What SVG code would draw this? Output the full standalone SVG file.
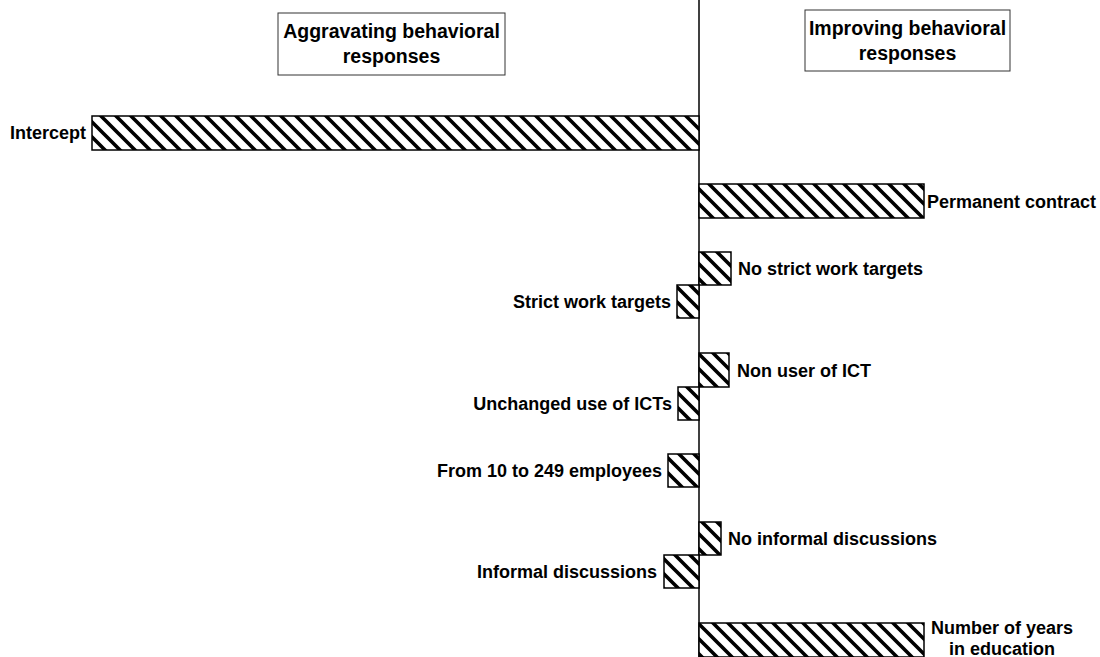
<svg xmlns="http://www.w3.org/2000/svg" width="1100" height="657" viewBox="0 0 1100 657">
<style>
.bar{fill:url(#hatch);stroke:#000;stroke-width:1.5}
.lbl{font-family:"Liberation Sans",Arial,sans-serif;font-weight:bold;font-size:18px;fill:#000}
.hdr{font-family:"Liberation Sans",Arial,sans-serif;font-weight:bold;font-size:19.5px;fill:#000;text-anchor:middle}
.box{fill:#fff;stroke:#333;stroke-width:1}
</style>
<defs>
<pattern id="hatch" patternUnits="userSpaceOnUse" width="15" height="15">
<rect width="15" height="15" fill="#fff"/>
<path d="M0,0 L15,15 M10,-5 L20,5 M-5,10 L5,20" stroke="#000" stroke-width="3.6"/>
</pattern>
</defs>
<rect width="1100" height="657" fill="#fff"/>
<g id="header-left">
<rect class="box" x="278" y="13" width="227" height="62"/>
<text class="hdr" x="391.5" y="38">Aggravating behavioral</text>
<text class="hdr" x="391.5" y="63">responses</text>
</g>
<g id="header-right">
<rect class="box" x="805" y="10" width="205" height="61"/>
<text class="hdr" x="907.5" y="35">Improving behavioral</text>
<text class="hdr" x="907.5" y="60">responses</text>
</g>
<g id="connectors">
<line x1="699" y1="0" x2="699" y2="657" stroke="#000" stroke-width="1.5"/>
</g>
<g id="intercept">
<rect class="bar" x="92" y="116" width="607" height="34"/>
<text class="lbl" x="86" y="139" text-anchor="end">Intercept</text>
</g>
<g id="permanent-contract">
<rect class="bar" x="699" y="184" width="225" height="34"/>
<text class="lbl" x="927" y="207.5">Permanent contract</text>
</g>
<g id="no-strict-work-targets">
<rect class="bar" x="699" y="252" width="32" height="33"/>
<text class="lbl" x="738" y="275">No strict work targets</text>
</g>
<g id="strict-work-targets">
<rect class="bar" x="677" y="285" width="22" height="33"/>
<text class="lbl" x="671" y="308" text-anchor="end">Strict work targets</text>
</g>
<g id="non-user-ict">
<rect class="bar" x="699" y="353" width="30" height="34"/>
<text class="lbl" x="737" y="376.5">Non user of ICT</text>
</g>
<g id="unchanged-ict">
<rect class="bar" x="678" y="387" width="21" height="33"/>
<text class="lbl" x="672" y="410" text-anchor="end">Unchanged use of ICTs</text>
</g>
<g id="employees">
<rect class="bar" x="668" y="454" width="31" height="33"/>
<text class="lbl" x="662" y="477" text-anchor="end">From 10 to 249 employees</text>
</g>
<g id="no-informal-discussions">
<rect class="bar" x="699" y="522" width="22" height="33"/>
<text class="lbl" x="728" y="545">No informal discussions</text>
</g>
<g id="informal-discussions">
<rect class="bar" x="664" y="555" width="35" height="33"/>
<text class="lbl" x="657" y="578" text-anchor="end">Informal discussions</text>
</g>
<g id="years-education">
<rect class="bar" x="699" y="623" width="225" height="34"/>
<text class="lbl" x="1002" y="634" text-anchor="middle">Number of years</text>
<text class="lbl" x="1002" y="655" text-anchor="middle">in education</text>
</g>
</svg>
